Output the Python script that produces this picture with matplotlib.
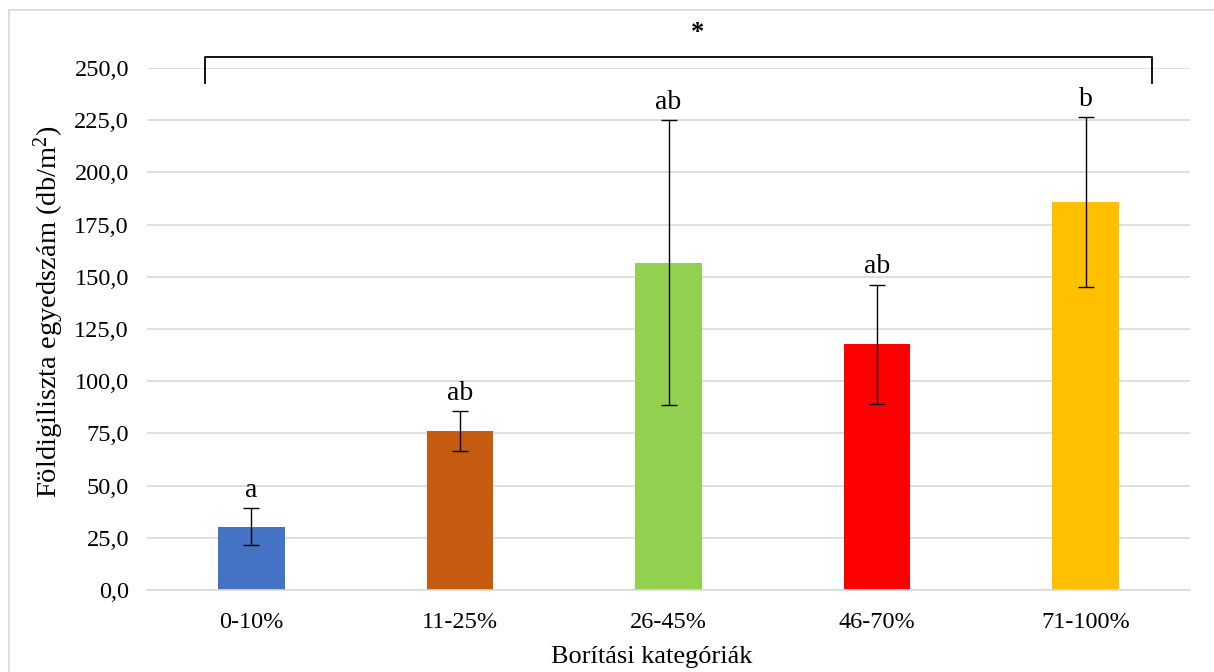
import matplotlib
matplotlib.use("Agg")
import matplotlib.pyplot as plt
from matplotlib.patches import Rectangle

categories = ["0-10%", "11-25%", "26-45%", "46-70%", "71-100%"]
means = [30.3, 76.1, 156.7, 117.8, 185.8]
errors = [8.8, 9.5, 68.3, 28.5, 40.7]
letters = ["a", "ab", "ab", "ab", "b"]
colors = ["#4472C4", "#C55A11", "#92D050", "#FF0000", "#FFC000"]
yticks = [0, 25, 50, 75, 100, 125, 150, 175, 200, 225, 250]

plt.rcParams['font.family'] = ['Liberation Serif', 'DejaVu Serif']
plt.rcParams['mathtext.fontset'] = 'custom'
plt.rcParams['mathtext.rm'] = 'Liberation Serif'
plt.rcParams['mathtext.it'] = 'Liberation Serif:italic'

W, H = 1214, 672
fig = plt.figure(figsize=(W / 100, H / 100), dpi=100)
fig.patches.append(Rectangle((9 / W, -0.1), 1.2, (H - 10) / H + 0.1, transform=fig.transFigure,
                             fill=False, edgecolor="#d9d9d9", linewidth=1.2))
ax = fig.add_axes([147 / W, (H - 590) / H, (1190 - 147) / W, (590 - 68) / H])

x = list(range(len(categories)))
ax.bar(x, means, width=0.32, color=colors, zorder=2)
ax.errorbar(x, means, yerr=errors, fmt="none", ecolor="black", elinewidth=1,
            capsize=6, capthick=1, zorder=3)
for xi, m, e, lab in zip(x, means, errors, letters):
    ax.text(xi, m + e + 5.5, lab, ha="center", va="baseline", fontsize=20)

ax.set_xlim(-0.5, 4.5)
ax.set_ylim(0, 250)
ax.set_yticks(yticks)
ax.set_yticklabels([f"{v:.1f}".replace(".", ",") for v in yticks], fontsize=17.5)
ax.set_xticks(x)
ax.set_xticklabels(categories, fontsize=17.5)
ax.tick_params(axis="y", length=0, pad=13)
ax.tick_params(axis="x", length=0, pad=16)
ax.grid(axis="y", color="#d9d9d9", linewidth=1.2, zorder=0)
for s in ["top", "right", "left"]:
    ax.spines[s].set_visible(False)
ax.spines["bottom"].set_color("#d9d9d9")
ax.spines["bottom"].set_linewidth(1.2)
ax.set_axisbelow(True)

ax.set_ylabel("Földigiliszta egyedszám (db/m$^{2}$)", fontsize=20.5)
ax.yaxis.set_label_coords(-0.0777, 0.533)
ax.set_xlabel("Borítási kategóriák", fontsize=19)
ax.xaxis.set_label_coords(0.484, -0.108)

# significance bracket
bx0, bx1 = -0.224, 4.32
ytop, ybot = 255.2, 242.8
ax.plot([bx0, bx0, bx1, bx1], [ybot, ytop, ytop, ybot], color="black", linewidth=1.3,
        clip_on=False, solid_joinstyle="round")
ax.text(2.141, 266.8, "*", ha="center", va="center", fontsize=19, fontweight="bold",
        clip_on=False)

fig.savefig("out.png", dpi=100)
